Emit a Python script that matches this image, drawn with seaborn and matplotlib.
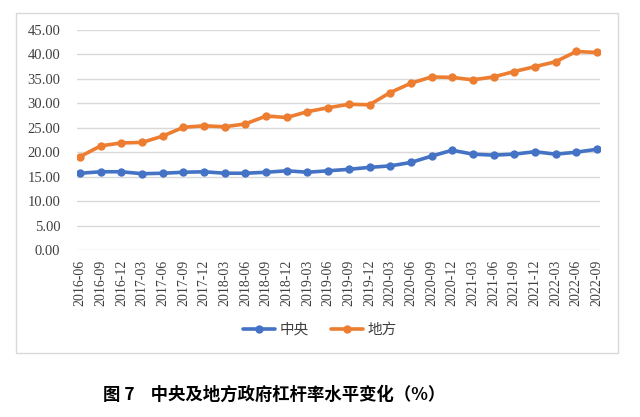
import pandas as pd
import matplotlib
matplotlib.use("Agg")
import matplotlib.pyplot as plt
import seaborn as sns
from matplotlib.patches import Rectangle

quarters = ['2016-06', '2016-09', '2016-12', '2017-03', '2017-06', '2017-09', '2017-12',
            '2018-03', '2018-06', '2018-09', '2018-12', '2019-03', '2019-06', '2019-09',
            '2019-12', '2020-03', '2020-06', '2020-09', '2020-12', '2021-03', '2021-06',
            '2021-09', '2021-12', '2022-03', '2022-06', '2022-09']
zhongyang = [15.7, 16.0, 16.0, 15.6, 15.7, 15.9, 16.0, 15.7, 15.7, 15.9, 16.2, 15.9, 16.2,
             16.5, 16.9, 17.2, 17.9, 19.2, 20.4, 19.6, 19.4, 19.6, 20.1, 19.6, 20.0, 20.6]
difang = [19.1, 21.3, 21.9, 22.0, 23.3, 25.1, 25.4, 25.2, 25.8, 27.4, 27.1, 28.3, 29.1,
          29.8, 29.7, 32.2, 34.1, 35.4, 35.3, 34.8, 35.4, 36.5, 37.5, 38.5, 40.6, 40.4]
series_names = ['中央', '地方']
yticks = [0, 5, 10, 15, 20, 25, 30, 35, 40, 45]

df = pd.DataFrame({
    'quarter': quarters * 2,
    'value': zhongyang + difang,
    'series': [series_names[0]] * len(quarters) + [series_names[1]] * len(quarters),
})

sns.set_style('white')
plt.rcParams['font.family'] = ['Liberation Serif', 'Noto Sans CJK SC']

fig = plt.figure(figsize=(6.4, 4.17), dpi=100)
ax = fig.add_axes([0.1203, 0.4005, 0.8172, 0.5276])

palette = {'中央': '#4472C4', '地方': '#ED7D31'}
sns.lineplot(data=df, x='quarter', y='value', hue='series', palette=palette,
             marker='o', markersize=6, markeredgewidth=0, linewidth=2.6, ax=ax)

ax.set_ylim(0, 45)
ax.set_xlim(-0.15, len(quarters) - 0.85)
ax.set_yticks(yticks)
ax.set_yticklabels([f'{v:.2f}' for v in yticks], fontsize=10.5, color='#404040')
ax.set_xticks(range(len(quarters)))
ax.set_xticklabels(quarters, rotation=90, fontsize=10, color='#404040')
ax.tick_params(axis='both', length=0)
ax.tick_params(axis='x', pad=7)
ax.tick_params(axis='y', pad=12)
ax.grid(axis='y', color='#d9d9d9', linewidth=1)
ax.grid(axis='x', visible=False)
for s in ax.spines.values():
    s.set_visible(False)
ax.set_xlabel('')
ax.set_ylabel('')

handles, labels = ax.get_legend_handles_labels()
ax.legend(handles, labels, loc='center', bbox_to_anchor=(0.5, 0.209),
          bbox_transform=fig.transFigure, ncol=2, frameon=False, fontsize=10.5,
          handlelength=2.2, columnspacing=1.5, handletextpad=0.3, labelcolor='#404040')

fig.patches.append(Rectangle((16 / 640, 1 - 353 / 417), (618 - 16) / 640, (353 - 13) / 417,
                             transform=fig.transFigure, fill=False,
                             edgecolor='#d9d9d9', linewidth=1))

fig.text(0.161, 1 - 395 / 417, '图 7    中央及地方政府杠杆率水平变化（%）',
         fontsize=12.5, fontweight='bold', family=['Noto Sans CJK SC', 'DejaVu Sans'],
         va='center', ha='left', color='#000000')

fig.savefig('out.png', dpi=100)
